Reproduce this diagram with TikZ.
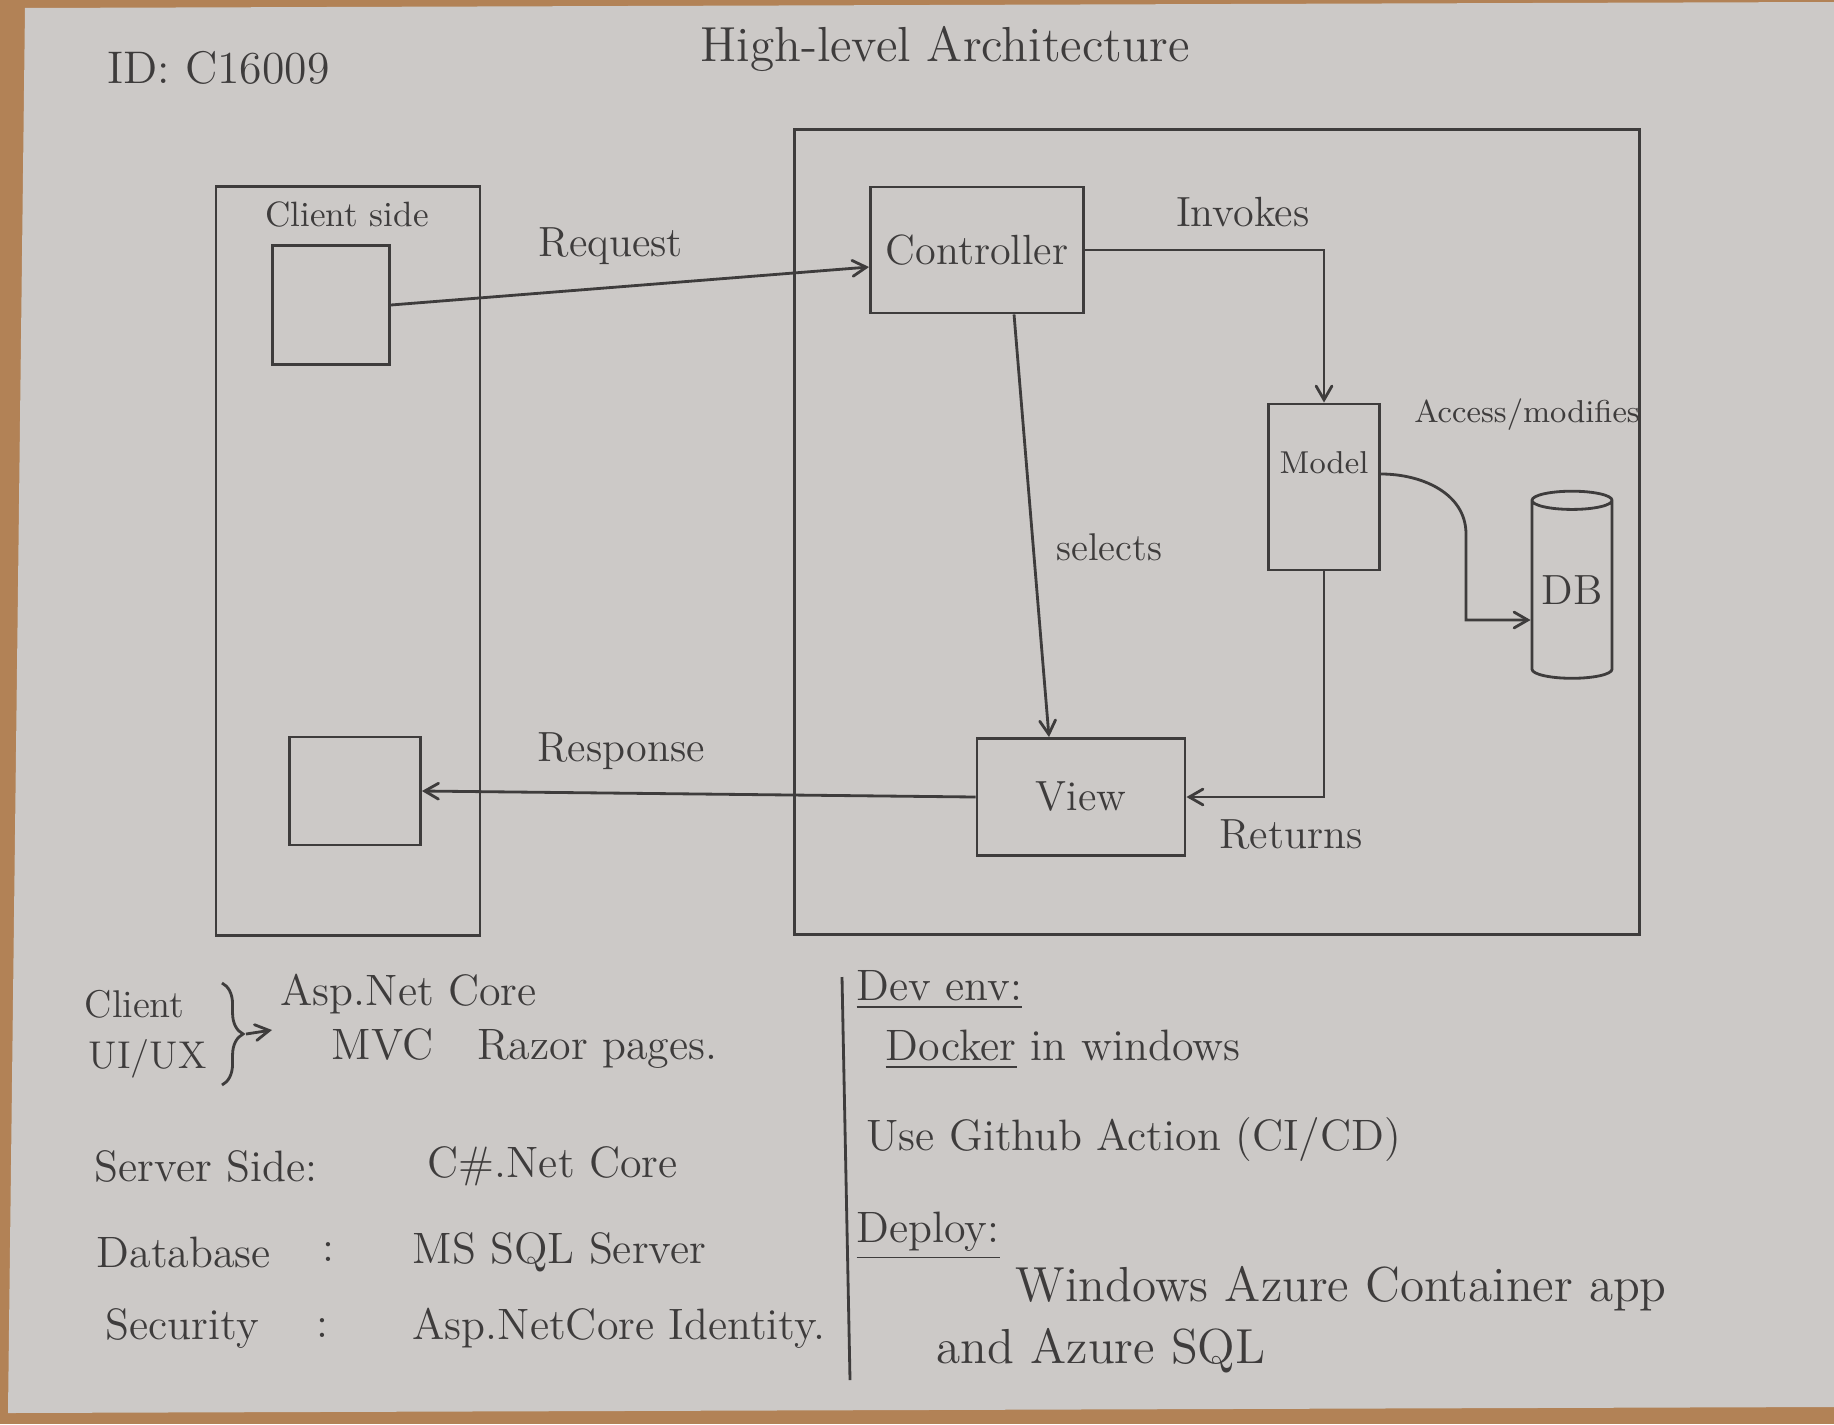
\documentclass[tikz,border=0pt]{standalone}
\usepackage{amsmath}
\usepackage{tikz}
\usetikzlibrary{shapes, arrows, positioning, decorations.pathreplacing}

\definecolor{paper}{RGB}{204,201,199}
\definecolor{ink}{RGB}{62,60,60}
\definecolor{wood}{RGB}{178,130,86}

\begin{document}
\begin{tikzpicture}[
        x=0.01cm, y=-0.01cm,
        box/.style={rectangle, draw=ink, thick, text=ink, inner sep=0pt, align=center, font=\fontsize{12}{14}\selectfont},
        lbl/.style={text=ink, font=\fontsize{12}{14}\selectfont},
        note/.style={text=ink, anchor=west, inner sep=0pt, font=\fontsize{12.5}{15}\selectfont},
        arrow/.style={draw=ink, thick, ->, >=angle 60}
    ]

    % Paper on the table
    \useasboundingbox (0,0) rectangle (1834,1424);
    \fill[wood] (0,0) rectangle (1834,1424);
    \fill[paper] (25,8) -- (1834,2) -- (1834,1407) -- (8,1413) -- cycle;

    % Heading
    \node[lbl, anchor=west, font=\fontsize{13}{16}\selectfont] (id) at (95,68) {ID: C16009};
    \node[lbl, font=\fontsize{14}{17}\selectfont] (title) at (945,49) {High-level Architecture};

    % Client side
    \node[box, minimum width=2.64cm, minimum height=7.49cm] (client) at (348,561) {};
    \node[lbl, font=\fontsize{10}{12}\selectfont] (clientlbl) at (347,214) {Client side};
    \node[box, minimum width=1.17cm, minimum height=1.19cm] (creq) at (331,305) {};
    \node[box, minimum width=1.31cm, minimum height=1.08cm] (cres) at (355,791) {};

    % Server side
    \node[box, minimum width=8.45cm, minimum height=8.05cm] (server) at (1217,532) {};
    \node[box, minimum width=2.13cm, minimum height=1.26cm] (ctrl) at (977,250) {Controller};
    \node[box, minimum width=1.11cm, minimum height=1.66cm, font=\fontsize{9}{11}\selectfont] (model) at (1324,487) {Model\\[1mm]};
    \node[cylinder, shape border rotate=90, draw=ink, thick, text=ink, aspect=0.3, inner sep=0pt,
          minimum width=0.8cm, minimum height=1.87cm, font=\fontsize{12}{14}\selectfont] (db) at (1572,590) {DB};
    \node[box, minimum width=2.08cm, minimum height=1.17cm] (view) at (1081,797) {View};
    \node[lbl, font=\fontsize{9}{11}\selectfont] (acclbl) at (1527,415) {Access/modifies};

    % Connecting lines
    \draw[arrow] (creq.east) -- node[lbl, above=1mm, pos=0.46] {Request} ([yshift=-1.7mm]ctrl.west);
    \draw[arrow] (ctrl.east) -| node[lbl, above=1mm, pos=0.33] {Invokes} (model.north);
    \draw[arrow] ([xshift=3.7mm]ctrl.south) -- node[lbl, right=1mm, pos=0.55, font=\fontsize{11}{13}\selectfont] {selects} ([xshift=-3.2mm]view.north);
    \draw[arrow] ([yshift=1.3mm]model.east) to[out=0, in=90] ++(0.85cm,-0.6cm) |- ([yshift=-3mm]db.west);
    \draw[arrow] (model.south) |- node[lbl, below=1mm, pos=0.62] {Returns} (view.east);
    \draw[arrow] (view.west) -- node[lbl, above=1mm, pos=0.64] {Response} (cres.east);

    % Notes: technology
    \node[note, font=\fontsize{11}{13}\selectfont] (uiclient) at (84,1004) {Client};
    \node[note, font=\fontsize{11}{13}\selectfont] (uiux) at (88,1059) {UI/UX};
    \draw[ink, thick, decorate, decoration={brace, amplitude=6pt}] (222,983) -- (222,1085);
    \coordinate (brtip) at (246,1034);
    \coordinate (brend) at (272,1030);
    \draw[arrow] (brtip) -- (brend);
    \node[note] (aspnet) at (280,994) {Asp.Net Core};
    \node[note] (mvc) at (331,1049) {MVC\quad Razor pages.};

    \node[note] (srvkey) at (94,1166) {Server Side:};
    \node[note] (srvval) at (427,1166) {C\#.Net Core};
    \node[note] (dbkey) at (96,1252) {Database};
    \node[note] (dbsep) at (322,1252) {:};
    \node[note] (dbval) at (412,1252) {MS SQL Server};
    \node[note] (seckey) at (105,1328) {Security};
    \node[note] (secsep) at (316,1328) {:};
    \node[note] (secval) at (412,1328) {Asp.NetCore Identity.};

    % Notes: environment
    \draw[ink, thick] (842,977) -- (850,1380);
    \node[note] (devenv) at (856,990) {\underline{Dev env:}};
    \node[note] (docker) at (885,1050) {\underline{Docker} in windows};
    \node[note] (ghaction) at (866,1140) {Use Github Action (CI/CD)};
    \node[note] (deploy) at (856,1236) {\underline{Deploy:}};
    \node[note, font=\fontsize{14}{17}\selectfont] (azapp) at (1015,1289) {Windows Azure Container app};
    \node[note, font=\fontsize{14}{17}\selectfont] (azsql) at (936,1351) {and Azure SQL};

\end{tikzpicture}
\end{document}
